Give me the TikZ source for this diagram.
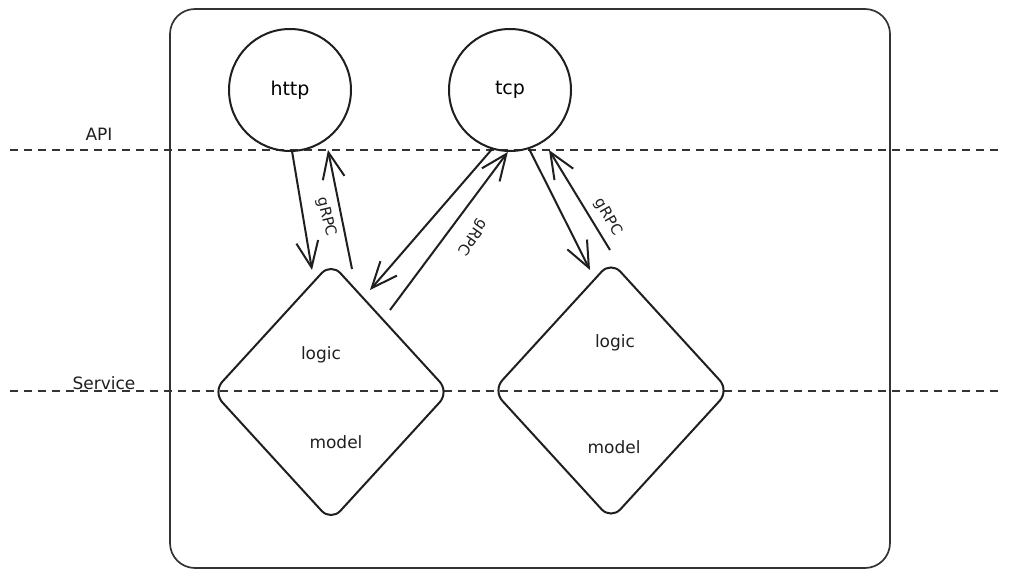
\documentclass[tikz,border=0pt]{standalone}
\usepackage{fontspec}
\setmainfont{DejaVu Sans}
\usetikzlibrary{shapes.geometric,arrows.meta}
\begin{document}
\begin{tikzpicture}[x=1pt,y=-1pt,
  circ/.style={circle, draw=black!88, line width=2pt, minimum size=122pt, inner sep=0, font=\fontsize{19}{22}\selectfont},
  dia/.style={diamond, draw=black!88, line width=2pt, minimum width=237pt, minimum height=259pt, inner sep=0, rounded corners=14pt},
  lbl/.style={font=\fontsize{17}{20}\selectfont, text=black!88, inner sep=0},
  rpc/.style={font=\fontsize{15}{17}\selectfont, text=black!88, inner sep=0},
  layer/.style={draw=black!80, line width=1.4pt, dash pattern=on 8pt off 6pt},
  flow/.style={draw=black!88, line width=2pt, -{Straight Barb[length=26pt,width=22pt]}},
]
\useasboundingbox (0,0) rectangle (1009,580);
\node[draw=black!80, line width=1.7pt, rounded corners=25pt, minimum width=720pt, minimum height=559pt] (frame) at (530,288.5) {};

% layer lines
\coordinate (apiL) at (10,150);
\coordinate (apiR) at (1000,150);
\coordinate (svcL) at (10,391);
\coordinate (svcR) at (1000,391);
\draw[layer] (apiL) -- (apiR);
\draw[layer] (svcL) -- (svcR);
\node[lbl] (api) at (99,134) {API};
\node[lbl] (svc) at (104,383) {Service};

% nodes
\node[circ] (http) at (290,90) {http};
\node[circ] (tcp) at (510,90) {tcp};
\node[dia] (ld) at (331,392) {};
\node[dia] (rd) at (611,390.5) {};
\node[lbl] (ll) at (321,355) {logic};
\node[lbl] (lm) at (336,442) {model};
\node[lbl] (rl) at (615,343) {logic};
\node[lbl] (rm) at (614,447) {model};

% free ends
\coordinate (c1) at (312,270);
\coordinate (c2s) at (352,269);
\coordinate (c2e) at (328,150);
\coordinate (c3) at (370,290);
\coordinate (c4s) at (390,310);
\coordinate (c5) at (590,270);
\coordinate (c6s) at (610,250);
\coordinate (c6e) at (549,150);

% connectors
\draw[flow] (http.-88) -- (c1);
\draw[flow] (c2s) -- (c2e);
\draw[flow] (tcp.-107) -- (c3);
\draw[flow] (c4s) -- (tcp.-92);
\draw[flow] (tcp.-72) -- (c5);
\draw[flow] (c6s) -- (c6e);

\node[rpc, rotate=-76] (g1) at (326,217) {gRPC};
\node[rpc, rotate=235] (g2) at (472,237) {gRPC};
\node[rpc, rotate=-60] (g3) at (608,217) {gRPC};
\end{tikzpicture}
\end{document}
